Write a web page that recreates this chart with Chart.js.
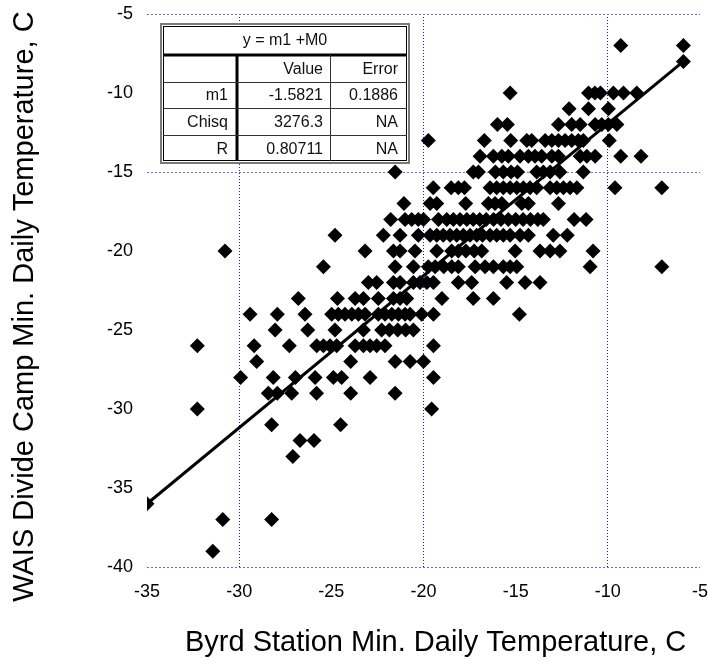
<!DOCTYPE html>
<html>
<head>
<meta charset="utf-8">
<script src="https://cdn.jsdelivr.net/npm/chart.js@4.4.0/dist/chart.umd.min.js"></script>
<style>
  body { margin: 0; background: #fff; }
  #wrap { width: 708px; height: 665px; }
</style>
</head>
<body>
<div id="wrap"><canvas id="myChart"></canvas></div>
<script>
// Byrd Station (x) vs WAIS Divide Camp (y) daily minimum temperatures, C
// one line per WAIS row
const byrdMin = [
  -9.3, -5.9,
  -5.9,
  -15.3, -11.05, -10.7, -10.4, -9.7, -9.15, -8.43,
  -12.1, -11.05, -9.97,
  -15.99, -15.45, -12.68, -11.96, -11.5, -10.69, -10.33, -9.97, -9.51,
  -19.74, -16.7, -15.27, -14.4, -14.13, -13.4, -13.04, -12.68, -12.32, -11.96, -11.6, -11.33, -9.92,
  -16.93, -16.21, -15.75, -15.4, -14.76, -14.31, -13.95, -13.59, -13.04, -12.68, -11.5, -11.14, -10.69, -9.3, -8.2,
  -21.54, -17.3, -17.02, -16.1, -15.67, -15.25, -14.9, -13.86, -13.5, -13.13, -12.6, -11.33,
  -19.47, -18.5, -18.11, -17.78, -16.39, -16.03, -15.67, -15.3, -14.94, -14.58, -14.22, -13.86, -13.13, -12.77, -12.41, -12.05, -11.68, -9.61, -7.07,
  -21.06, -19.64, -19.28, -17.71, -16.48, -16.12, -15.75, -14.67, -14.31, -12.68,
  -21.78, -21.0, -20.64, -20.28, -20.0, -19.19, -18.74, -18.38, -18.02, -17.65, -17.3, -16.95, -16.6, -16.2, -15.8, -15.4, -15.0, -14.6, -14.2, -13.8, -13.5, -11.83, -11.18,
  -24.8, -22.18, -21.27, -20.28, -19.64, -19.28, -18.93, -18.56, -18.2, -17.84, -17.47, -17.11, -16.8, -16.39, -16.03, -15.67, -15.3, -14.76, -14.31, -12.96, -12.2,
  -30.77, -23.17, -21.63, -21.27, -20.46, -19.28, -18.47, -18.11, -17.7, -17.25, -16.84, -15.03, -13.68, -13.13, -12.6, -10.8,
  -25.43, -21.54, -20.55, -19.74, -19.37, -18.9, -18.47, -18.11, -17.2, -16.66, -16.21, -15.67, -15.3, -14.94, -10.96, -7.07,
  -22.99, -22.54, -21.63, -21.27, -20.55, -20.19, -19.82, -19.46, -18.11, -17.39, -15.49, -14.49, -13.68,
  -26.79, -24.67, -23.71, -23.26, -22.45, -21.63, -21.27, -20.91, -19.0, -17.3, -16.21,
  -29.41, -27.93, -26.43, -24.98, -24.62, -24.26, -23.89, -23.53, -23.17, -22.45, -22.09, -21.72, -21.36, -21.0, -20.73, -20.1, -19.46, -14.8,
  -28.05, -26.28, -24.8, -23.26, -22.27, -21.85, -21.4, -20.97, -20.55,
  -32.27, -29.19, -27.28, -25.79, -25.43, -25.07, -24.71, -23.71, -23.26, -22.9, -22.54, -22.09, -19.46,
  -29.05, -23.95, -21.54, -20.73, -20.0,
  -29.92, -28.15, -26.95, -25.88, -24.89, -24.44, -22.9, -19.46,
  -28.42, -27.93, -27.15, -25.8, -23.95, -21.54,
  -32.27, -19.56,
  -28.24, -24.5,
  -26.7, -25.94,
  -27.09,
  -35,
  -30.89, -28.24,
  -31.43
];
const waisMin = [
  -7, -7,
  -8,
  -10, -10, -10, -10, -10, -10, -10,
  -11, -11, -11,
  -12, -12, -12, -12, -12, -12, -12, -12, -12,
  -13, -13, -13, -13, -13, -13, -13, -13, -13, -13, -13, -13, -13,
  -14, -14, -14, -14, -14, -14, -14, -14, -14, -14, -14, -14, -14, -14, -14,
  -15, -15, -15, -15, -15, -15, -15, -15, -15, -15, -15, -15,
  -16, -16, -16, -16, -16, -16, -16, -16, -16, -16, -16, -16, -16, -16, -16, -16, -16, -16, -16,
  -17, -17, -17, -17, -17, -17, -17, -17, -17, -17,
  -18, -18, -18, -18, -18, -18, -18, -18, -18, -18, -18, -18, -18, -18, -18, -18, -18, -18, -18, -18, -18, -18, -18,
  -19, -19, -19, -19, -19, -19, -19, -19, -19, -19, -19, -19, -19, -19, -19, -19, -19, -19, -19, -19, -19,
  -20, -20, -20, -20, -20, -20, -20, -20, -20, -20, -20, -20, -20, -20, -20, -20,
  -21, -21, -21, -21, -21, -21, -21, -21, -21, -21, -21, -21, -21, -21, -21, -21,
  -22, -22, -22, -22, -22, -22, -22, -22, -22, -22, -22, -22, -22,
  -23, -23, -23, -23, -23, -23, -23, -23, -23, -23, -23,
  -24, -24, -24, -24, -24, -24, -24, -24, -24, -24, -24, -24, -24, -24, -24, -24, -24, -24,
  -25, -25, -25, -25, -25, -25, -25, -25, -25,
  -26, -26, -26, -26, -26, -26, -26, -26, -26, -26, -26, -26, -26,
  -27, -27, -27, -27, -27,
  -28, -28, -28, -28, -28, -28, -28, -28,
  -29, -29, -29, -29, -29, -29,
  -30, -30,
  -31, -31,
  -32, -32,
  -33,
  -36,
  -37, -37,
  -39
];

// fitted line end points
const fitX = [-35, -5.9];
const fitY = [-36, -8];

const xTicks = [-35, -30, -25, -20, -15, -10, -5];
const yTicks = [-40, -35, -30, -25, -20, -15, -10, -5];
const xGrid = [-30, -20, -10];
const yGrid = [-5, -15, -40];

const tableTitle = 'y = m1 +M0';
const tableHead = ['', 'Value', 'Error'];
const tableRows = [
  ['m1', '-1.5821', '0.1886'],
  ['Chisq', '3276.3', 'NA'],
  ['R', '0.80711', 'NA']
];

if (byrdMin.length !== waisMin.length) console.log('length mismatch', byrdMin.length, waisMin.length);

const points = byrdMin.map((x, i) => ({x: x, y: waisMin[i]}));
const fitLine = fitX.map((x, i) => ({x: x, y: fitY[i]}));

const FONT = "'Liberation Sans', Arial, sans-serif";

// curve-fit result box in the upper left corner of the plot
const fitTable = {
  id: 'fitTable',
  afterDraw(chart) {
    const ctx = chart.ctx;
    const a = chart.chartArea;
    const L = a.left + 13, T = a.top + 9, W = 250, H = 141;
    const c1 = L + 77, c2 = L + 170;
    const r0 = T + 32, rh = 26.7;
    ctx.save();
    ctx.fillStyle = '#fff';
    ctx.fillRect(L, T, W, H);
    ctx.strokeStyle = '#7a7a7a';
    ctx.lineWidth = 2;
    ctx.strokeRect(L + 1, T + 1, W - 2, H - 2);
    ctx.strokeStyle = '#000';
    ctx.lineWidth = 1;
    ctx.strokeRect(L + 3.5, T + 3.5, W - 7, H - 7);
    // heavy rules
    ctx.lineWidth = 3;
    ctx.beginPath();
    ctx.moveTo(L + 3, r0); ctx.lineTo(L + W - 3, r0);
    ctx.moveTo(c1, r0); ctx.lineTo(c1, T + H - 3);
    ctx.stroke();
    // thin rules
    ctx.lineWidth = 1;
    ctx.strokeStyle = '#333';
    ctx.beginPath();
    for (let i = 1; i <= 3; i++) {
      const y = Math.round(r0 + i * rh) + 0.5;
      ctx.moveTo(L + 3, y); ctx.lineTo(L + W - 3, y);
    }
    ctx.moveTo(c2 + 0.5, r0); ctx.lineTo(c2 + 0.5, T + H - 3);
    ctx.stroke();

    ctx.fillStyle = '#111';
    ctx.font = '16px ' + FONT;
    ctx.textBaseline = 'middle';
    ctx.textAlign = 'center';
    ctx.fillText(tableTitle, L + W / 2, T + 18);
    ctx.textAlign = 'right';
    const rowsAll = [tableHead].concat(tableRows);
    rowsAll.forEach((row, i) => {
      const y = r0 + rh * i + rh / 2 + 1;
      ctx.fillText(row[0], c1 - 9, y);
      ctx.fillText(row[1], c2 - 7, y);
      ctx.fillText(row[2], L + W - 12, y);
    });
    ctx.restore();
  }
};

new Chart(document.getElementById('myChart'), {
  type: 'scatter',
  data: {
    datasets: [
      {
        label: 'fit',
        type: 'line',
        data: fitLine,
        borderColor: '#000',
        borderWidth: 3,
        pointRadius: 0,
        fill: false
      },
      {
        label: 'daily minimum',
        data: points,
        pointStyle: 'rectRot',
        pointRadius: 7.5,
        backgroundColor: '#000',
        borderWidth: 0
      }
    ]
  },
  options: {
    responsive: true,
    maintainAspectRatio: false,
    animation: false,
    events: [],
    layout: { padding: 0 },
    plugins: { legend: { display: false }, tooltip: { enabled: false } },
    scales: {
      x: {
        type: 'linear',
        min: -35,
        max: -5,
        afterBuildTicks: s => { s.ticks = xTicks.map(v => ({value: v})); },
        afterFit: s => { s.height = 98; s.paddingLeft = 0; s.paddingRight = 8; },
        ticks: { color: '#000', font: { family: FONT, size: 18 }, padding: 14 },
        grid: {
          drawTicks: false,
          lineWidth: 1,
          color: c => xGrid.includes(c.tick.value) ? '#1a1ae6' : 'rgba(0,0,0,0)'
        },
        border: { display: false, dash: [1, 2] },
        title: {
          display: true,
          text: '   Byrd Station Min. Daily Temperature, C',
          color: '#000',
          font: { family: FONT, size: 29 },
          padding: { bottom: 5 }
        }
      },
      y: {
        type: 'linear',
        min: -40,
        max: -5,
        afterBuildTicks: s => { s.ticks = yTicks.map(v => ({value: v})); },
        afterFit: s => { s.width = 147; s.paddingTop = 14; s.paddingBottom = 0; },
        ticks: { color: '#000', font: { family: FONT, size: 18 }, padding: 14 },
        grid: {
          drawTicks: false,
          lineWidth: 1,
          color: c => yGrid.includes(c.tick.value) ? '#6464ee' : 'rgba(0,0,0,0)'
        },
        border: { display: false, dash: [2, 2] },
        title: {
          display: true,
          text: 'WAIS Divide Camp Min. Daily Temperature, C    ',
          color: '#000',
          font: { family: FONT, size: 29 },
          padding: { top: 8 }
        }
      }
    }
  },
  plugins: [fitTable]
});
</script>
</body>
</html>
